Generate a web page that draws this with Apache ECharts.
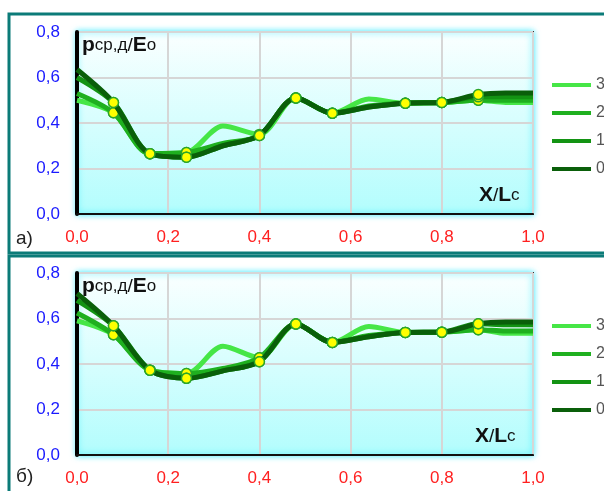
<!DOCTYPE html>
<html>
<head>
<meta charset="utf-8">
<script src="https://cdn.jsdelivr.net/npm/echarts@6/dist/echarts.min.js"></script>
<style>
  html, body { margin: 0; padding: 0; background: #fff; }
  #chart { width: 604px; height: 491px; }
</style>
</head>
<body>
<div id="chart"></div>
<script>
// X/Lc positions of the curve points
var xs = [0, 0.08, 0.16, 0.24, 0.32, 0.40, 0.48, 0.56, 0.64, 0.72, 0.80, 0.88, 0.94, 1.0];
// points that carry a yellow marker
var marked = [false, true, true, true, false, true, true, true, false, true, true, true, false, false];
var seriesNames = ['3', '2', '1', '0'];
var lineColors = ['#46e646', '#1fb01f', '#139313', '#0a5f0a'];

// panel a)
var a3 = [0.50, 0.445, 0.265, 0.27, 0.387, 0.35, 0.51, 0.443, 0.505, 0.487, 0.49, 0.50, 0.49, 0.49];
var a2 = [0.53, 0.445, 0.265, 0.27, 0.31, 0.345, 0.51, 0.443, 0.475, 0.487, 0.49, 0.50, 0.50, 0.50];
var a1 = [0.60, 0.49, 0.265, 0.25, 0.30, 0.345, 0.51, 0.443, 0.47, 0.487, 0.49, 0.515, 0.515, 0.515];
var a0 = [0.635, 0.49, 0.265, 0.25, 0.30, 0.345, 0.51, 0.443, 0.47, 0.487, 0.49, 0.525, 0.532, 0.532];

// panel б)
var b3 = [0.59, 0.529, 0.373, 0.358, 0.478, 0.427, 0.576, 0.495, 0.565, 0.539, 0.54, 0.551, 0.535, 0.535];
var b2 = [0.624, 0.529, 0.373, 0.358, 0.38, 0.427, 0.576, 0.495, 0.525, 0.539, 0.54, 0.551, 0.545, 0.545];
var b1 = [0.68, 0.568, 0.373, 0.337, 0.37, 0.41, 0.576, 0.495, 0.52, 0.539, 0.54, 0.577, 0.573, 0.573];
var b0 = [0.71, 0.568, 0.373, 0.337, 0.37, 0.41, 0.576, 0.495, 0.52, 0.539, 0.54, 0.577, 0.585, 0.585];

var font = 'Liberation Sans, Arial, sans-serif';

function makeData(ys) {
    return xs.map(function (x, i) {
        return {
            value: [x, ys[i]],
            symbol: marked[i] ? 'circle' : 'none',
            itemStyle: { color: '#ffff00', borderColor: '#2aa52a', borderWidth: 1.5 }
        };
    });
}

function makeSeries(panel, sets) {
    return sets.map(function (ys, k) {
        return {
            name: seriesNames[k],
            type: 'line',
            xAxisIndex: panel,
            yAxisIndex: panel,
            smooth: 0.3,
            symbolSize: 10,
            showAllSymbol: true,
            color: lineColors[k],
            lineStyle: { width: 5, color: lineColors[k] },
            data: makeData(ys),
            z: 2 + k
        };
    });
}

function grid(top) {
    return {
        left: 77, width: 456, top: top, height: 182,
        show: true,
        backgroundColor: {
            type: 'linear', x: 0, y: 0, x2: 0, y2: 1,
            colorStops: [{ offset: 0, color: '#fbffff' }, { offset: 1, color: '#b2fdfd' }]
        },
        borderColor: '#333',
        borderWidth: 2,
        shadowColor: 'rgba(0,230,255,0.7)',
        shadowBlur: 6
    };
}

function xAxis(idx) {
    return {
        type: 'value', gridIndex: idx, min: 0, max: 1, interval: 0.2,
        axisLine: { lineStyle: { color: '#111', width: 2 } },
        axisTick: { show: false },
        splitLine: { lineStyle: { color: '#d6d6d6', width: 2 } },
        axisLabel: {
            color: '#ff2020', fontSize: 17, fontFamily: font, margin: 15,
            formatter: function (v) { return v.toFixed(1).replace('.', ','); }
        }
    };
}

function yAxis(idx) {
    return {
        type: 'value', gridIndex: idx, min: 0, max: 0.8, interval: 0.2,
        axisLine: { show: true, lineStyle: { color: '#000', width: 4 } },
        axisTick: { show: false },
        splitLine: { lineStyle: { color: '#d6d6d6', width: 2 } },
        axisLabel: {
            color: '#1a1aff', fontSize: 17, fontFamily: font, margin: 17,
            formatter: function (v) { return v.toFixed(1).replace('.', ','); }
        }
    };
}

function legend(top) {
    return {
        data: seriesNames,
        orient: 'vertical',
        left: 547, top: top,
        icon: 'rect',
        itemWidth: 39, itemHeight: 4,
        itemGap: 12,
        selectedMode: false,
        textStyle: { color: '#555', fontSize: 16, fontFamily: font }
    };
}

var yTitle = {
    text: '{b|p}{s|ср,д}{m|/}{b|E}{s|о}',
    rich: {
        b: { fontSize: 21, fontWeight: 'bold', fontFamily: font, fill: '#111' },
        s: { fontSize: 17, fontFamily: font, fill: '#111' },
        m: { fontSize: 19, fontFamily: font, fill: '#111' }
    },
    fill: '#111'
};
var xTitle = {
    text: '{b|X}{m|/}{b|L}{s|c}',
    rich: {
        b: { fontSize: 21, fontWeight: 'bold', fontFamily: font, fill: '#111' },
        s: { fontSize: 17, fontFamily: font, fill: '#111' },
        m: { fontSize: 19, fontFamily: font, fill: '#111' }
    },
    fill: '#111'
};

var chart = echarts.init(document.getElementById('chart'), null, { renderer: 'canvas' });
chart.setOption({
    animation: false,
    grid: [grid(32), grid(273)],
    xAxis: [xAxis(0), xAxis(1)],
    yAxis: [yAxis(0), yAxis(1)],
    legend: [legend(72), legend(313)],
    series: makeSeries(0, [a3, a2, a1, a0]).concat(makeSeries(1, [b3, b2, b1, b0])),
    graphic: [
        { type: 'rect', shape: { x: 9, y: 14, width: 700, height: 239 }, style: { fill: 'none', stroke: '#0b7b78', lineWidth: 3 }, z: 0 },
        { type: 'rect', shape: { x: 9, y: 256, width: 700, height: 300 }, style: { fill: 'none', stroke: '#0b7b78', lineWidth: 3 }, z: 0 },
        { type: 'text', left: 82, top: 35, style: yTitle, z: 20 },
        { type: 'text', left: 82, top: 276, style: yTitle, z: 20 },
        { type: 'text', left: 479, top: 185, style: xTitle, z: 20 },
        { type: 'text', left: 475, top: 426, style: xTitle, z: 20 },
        { type: 'text', left: 16, top: 229, style: { text: 'а)', fontSize: 19, fontFamily: font, fill: '#222' } },
        { type: 'text', left: 16, top: 467, style: { text: 'б)', fontSize: 19, fontFamily: font, fill: '#222' } }
    ]
});

window.addEventListener('resize', function () {
    chart.resize();
});
</script>
</body>
</html>
